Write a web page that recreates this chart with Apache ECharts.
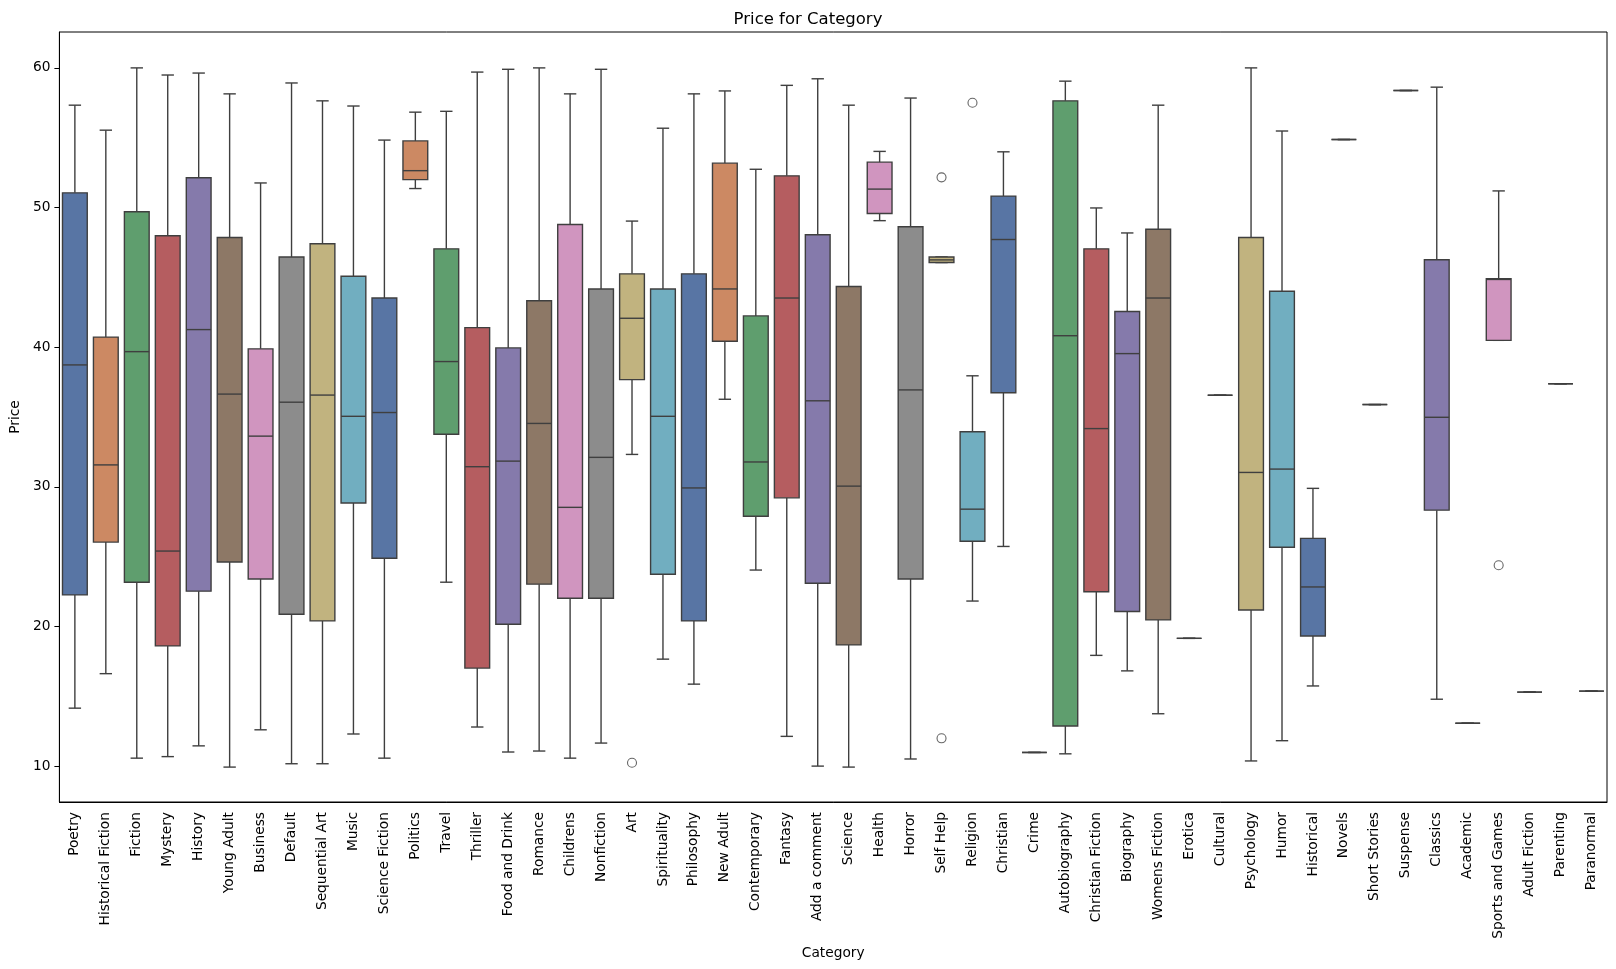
<!DOCTYPE html>
<html>
<head>
<meta charset="utf-8">
<title>Price for Category</title>
<script src="https://cdn.jsdelivr.net/npm/echarts@6/dist/echarts.min.js"></script>
<style>
  html, body { margin: 0; padding: 0; background: #fff; }
  #chart { width: 1616px; height: 969px; }
</style>
</head>
<body>
<div id="chart"></div>
<script>
var categories = ['Poetry', 'Historical Fiction', 'Fiction', 'Mystery', 'History', 'Young Adult', 'Business', 'Default',
	'Sequential Art', 'Music', 'Science Fiction', 'Politics', 'Travel', 'Thriller', 'Food and Drink', 'Romance',
	'Childrens', 'Nonfiction', 'Art', 'Spirituality', 'Philosophy', 'New Adult', 'Contemporary', 'Fantasy',
	'Add a comment', 'Science', 'Health', 'Horror', 'Self Help', 'Religion', 'Christian', 'Crime', 'Autobiography',
	'Christian Fiction', 'Biography', 'Womens Fiction', 'Erotica', 'Cultural', 'Psychology', 'Humor', 'Historical',
	'Novels', 'Short Stories', 'Suspense', 'Classics', 'Academic', 'Sports and Games', 'Adult Fiction', 'Parenting',
	'Paranormal'];

// whisker ends, quartiles and medians
var lowWhisker = [14.15, 16.62, 10.57, 10.68, 11.45, 9.93, 12.60, 10.17, 10.17, 12.30, 10.57, 51.36, 23.17, 12.80, 11.01,
	11.08, 10.57, 11.65, 32.32, 17.66, 15.87, 36.27, 24.04, 12.13, 10.00, 9.93, 49.06, 10.51, 46.06, 21.82, 25.73, 10.98,
	10.88, 17.93, 16.82, 13.75, 19.15, 36.56, 10.37, 11.82, 15.74, 54.87, 35.89, 58.38, 14.79, 13.07, 40.49, 15.30, 37.38, 15.37];
var q1 = [22.26, 26.04, 23.17, 18.61, 22.53, 24.62, 23.40, 20.87, 20.40, 28.84, 24.89, 52.00, 33.77, 17.02, 20.16,
	23.03, 22.02, 22.02, 37.68, 23.74, 20.40, 40.42, 27.89, 29.21, 23.10, 18.68, 49.57, 23.40, 46.06, 26.10, 36.74, 10.98,
	12.87, 22.49, 21.07, 20.47, 19.15, 36.56, 21.18, 25.67, 19.32, 54.87, 35.89, 58.38, 28.33, 13.07, 40.49, 15.30, 37.38, 15.37];
var median = [38.73, 31.57, 39.68, 25.40, 41.26, 36.64, 33.63, 36.06, 36.57, 35.05, 35.32, 52.64, 38.97, 31.44, 31.84,
	34.54, 28.53, 32.11, 42.07, 35.05, 29.92, 44.17, 31.78, 43.52, 36.16, 30.05, 51.32, 36.94, 46.25, 28.40, 47.71, 10.98,
	40.82, 34.17, 39.54, 43.52, 19.15, 36.56, 31.03, 31.27, 22.83, 54.87, 35.89, 58.38, 34.98, 13.07, 44.85, 15.30, 37.38, 15.37];
var q3 = [51.05, 40.72, 49.70, 47.98, 52.13, 47.85, 39.88, 46.46, 47.41, 45.08, 43.52, 54.77, 47.04, 41.40, 39.95,
	43.32, 48.79, 44.17, 45.25, 44.17, 45.25, 53.18, 42.24, 52.27, 48.05, 44.34, 53.25, 48.62, 46.46, 33.94, 50.82, 10.98,
	57.64, 47.04, 42.55, 48.45, 19.15, 36.56, 47.85, 44.00, 26.31, 54.87, 35.89, 58.38, 46.26, 13.07, 44.91, 15.30, 37.38, 15.37];
var highWhisker = [57.33, 55.54, 60.00, 59.49, 59.63, 58.14, 51.76, 58.92, 57.64, 57.27, 54.83, 56.83, 56.89, 59.70, 59.90,
	60.00, 58.14, 59.90, 49.03, 55.68, 58.14, 58.35, 52.74, 58.75, 59.22, 57.33, 54.02, 57.84, 46.46, 37.95, 53.99, 10.98,
	59.05, 49.97, 48.18, 57.33, 19.15, 36.56, 60.00, 55.48, 29.89, 54.87, 35.89, 58.38, 58.62, 13.07, 51.19, 15.30, 37.38, 15.37];

// fliers
var outlierCategory = ['Art', 'Self Help', 'Self Help', 'Religion', 'Sports and Games'];
var outlierPrice = [10.24, 52.16, 11.99, 57.50, 24.38];

var yTicks = [10, 20, 30, 40, 50, 60];

// seaborn "deep" at 0.75 saturation
var palette = ['#5875a4', '#cc8963', '#5f9e6e', '#b55d60', '#857aab', '#8d7866', '#d095bf', '#8c8c8c', '#c1b37f', '#71aec0'];
var lineColor = '#3f3f3f';
var font = 'DejaVu Sans';

var boxData = [];
for (var i = 0; i < categories.length; i++) {
	boxData.push([i, lowWhisker[i], q1[i], median[i], q3[i], highWhisker[i]]);
}
var outlierData = [];
for (var k = 0; k < outlierCategory.length; k++) {
	outlierData.push([categories.indexOf(outlierCategory[k]), outlierPrice[k]]);
}

function renderBox(params, api) {
	var idx = api.value(0);
	var lo = api.coord([idx, api.value(1)]);
	var b1 = api.coord([idx, api.value(2)]);
	var md = api.coord([idx, api.value(3)]);
	var b3 = api.coord([idx, api.value(4)]);
	var hi = api.coord([idx, api.value(5)]);
	var band = api.size([1, 0])[0];
	var w = band * 0.8;
	var cap = w / 2;
	var x = lo[0];
	var edge = { stroke: lineColor, lineWidth: 1.4 };
	return {
		type: 'group',
		children: [
			{ type: 'line', shape: { x1: x, y1: hi[1], x2: x, y2: b3[1] }, style: edge },
			{ type: 'line', shape: { x1: x, y1: b1[1], x2: x, y2: lo[1] }, style: edge },
			{ type: 'line', shape: { x1: x - cap / 2, y1: hi[1], x2: x + cap / 2, y2: hi[1] }, style: edge },
			{ type: 'line', shape: { x1: x - cap / 2, y1: lo[1], x2: x + cap / 2, y2: lo[1] }, style: edge },
			{
				type: 'rect',
				shape: { x: x - w / 2, y: b3[1], width: w, height: b1[1] - b3[1] },
				style: { fill: palette[idx % palette.length], stroke: lineColor, lineWidth: 1.4 }
			},
			{ type: 'line', shape: { x1: x - w / 2, y1: md[1], x2: x + w / 2, y2: md[1] }, style: edge }
		]
	};
}

var chart = echarts.init(document.getElementById('chart'));
var option = {
	backgroundColor: '#fff',
	animation: false,
	title: {
		text: 'Price for Category',
		left: 'center',
		top: 6,
		textStyle: { fontFamily: font, fontSize: 16.5, fontWeight: 'normal', color: '#000' }
	},
	grid: {
		left: 57,
		right: 9,
		top: 32,
		bottom: 167,
		show: true,
		borderColor: '#000',
		borderWidth: 1,
		backgroundColor: '#fff'
	},
	xAxis: {
		type: 'category',
		data: categories,
		boundaryGap: true,
		name: 'Category',
		nameLocation: 'middle',
		nameGap: 143,
		nameTextStyle: { fontFamily: font, fontSize: 13.75, color: '#000' },
		axisLine: { lineStyle: { color: '#000', width: 1 } },
		axisTick: { alignWithLabel: true, length: 5, lineStyle: { color: '#000' } },
		axisLabel: { interval: 0, rotate: 90, margin: 10, fontFamily: font, fontSize: 13.75, color: '#000' },
		splitLine: { show: false }
	},
	yAxis: {
		type: 'value',
		min: 7.43,
		max: 62.57,
		name: 'Price',
		nameLocation: 'middle',
		nameGap: 34,
		nameTextStyle: { fontFamily: font, fontSize: 13.75, color: '#000' },
		axisLine: { show: true, lineStyle: { color: '#000', width: 1 } },
		axisTick: { show: true, length: 5, customValues: yTicks, lineStyle: { color: '#000' } },
		axisLabel: { customValues: yTicks, margin: 9, fontFamily: font, fontSize: 13.75, color: '#000' },
		splitLine: { show: false }
	},
	series: [
		{
			type: 'custom',
			name: 'Price',
			renderItem: renderBox,
			encode: { x: 0, y: [1, 2, 3, 4, 5] },
			data: boxData
		},
		{
			type: 'scatter',
			name: 'Outliers',
			symbol: 'circle',
			symbolSize: 9,
			itemStyle: { color: '#fff', borderColor: lineColor, borderWidth: 1.1 },
			data: outlierData
		}
	]
};
chart.setOption(option);
</script>
</body>
</html>
